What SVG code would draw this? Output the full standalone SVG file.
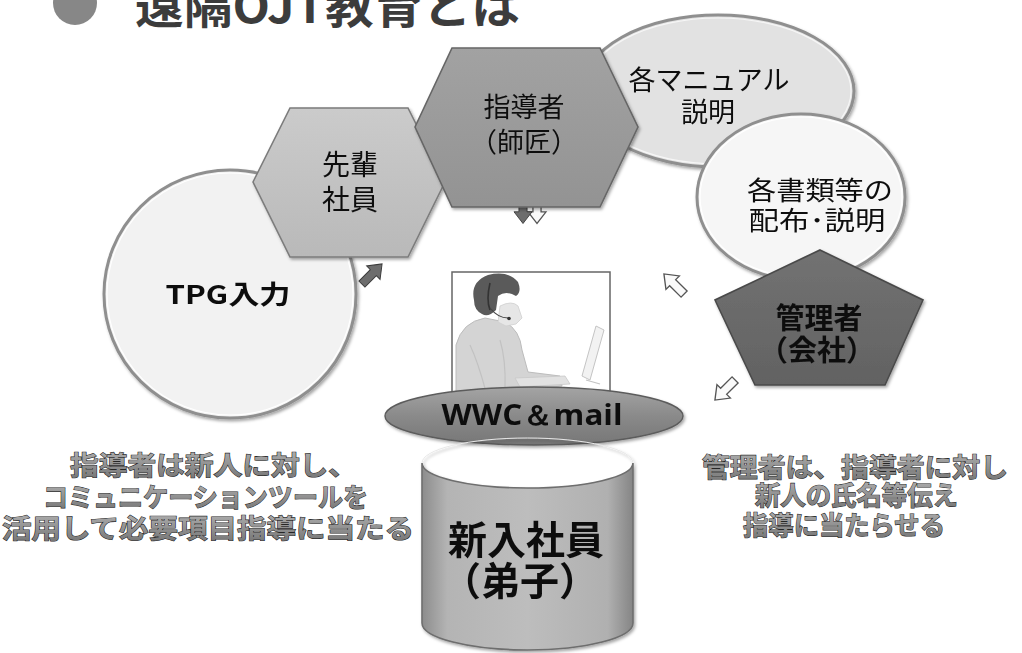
<svg xmlns="http://www.w3.org/2000/svg" width="1022" height="653" viewBox="0 0 1022 653">
  <defs>
    <style>
      .jp { font-family: "Noto Sans CJK JP", "Noto Sans", sans-serif; }
      .lbl { fill: #111; text-anchor: middle; }
      .blbl { font-weight: bold; fill: #111; text-anchor: middle; }
      .note { font-size: 26px; font-weight: bold; fill: url(#noteFill); stroke: #262626; stroke-width: 1.1px; paint-order: stroke; }
      .arrowDark { fill: #6d6d6d; stroke: #3a3a3a; stroke-width: 1; }
      .arrowLight { fill: #fafafa; stroke: #555; stroke-width: 1.4; }
    </style>
    <filter id="sh" x="-10%" y="-10%" width="125%" height="125%">
      <feDropShadow dx="1.5" dy="2" stdDeviation="1.6" flood-color="#000" flood-opacity="0.35"/>
    </filter>
    <linearGradient id="noteFill" x1="0" y1="0" x2="0" y2="1">
      <stop offset="0" stop-color="#b8b8b8"/>
      <stop offset="1" stop-color="#707070"/>
    </linearGradient>
    <linearGradient id="hexLight" x1="0" y1="0" x2="0" y2="1">
      <stop offset="0" stop-color="#cbcbcb"/>
      <stop offset="1" stop-color="#b9b9b9"/>
    </linearGradient>
    <linearGradient id="hexMid" x1="0" y1="0" x2="0" y2="1">
      <stop offset="0" stop-color="#a2a2a2"/>
      <stop offset="1" stop-color="#939393"/>
    </linearGradient>
    <linearGradient id="pentDark" x1="0" y1="0" x2="0" y2="1">
      <stop offset="0" stop-color="#727272"/>
      <stop offset="1" stop-color="#626262"/>
    </linearGradient>
    <linearGradient id="oval" x1="0" y1="0" x2="0" y2="1">
      <stop offset="0" stop-color="#a4a4a4"/>
      <stop offset="0.5" stop-color="#8a8a8a"/>
      <stop offset="1" stop-color="#767676"/>
    </linearGradient>
    <linearGradient id="can" x1="0" y1="0" x2="1" y2="0">
      <stop offset="0" stop-color="#8c8c8c"/>
      <stop offset="0.12" stop-color="#b4b4b4"/>
      <stop offset="0.5" stop-color="#bdbdbd"/>
      <stop offset="0.88" stop-color="#b0b0b0"/>
      <stop offset="1" stop-color="#858585"/>
    </linearGradient>
    <path id="blk" d="M-15,-4.5 L2,-4.5 L2,-10 L15,0 L2,10 L2,4.5 L-15,4.5 Z"/>
  </defs>

  <rect width="1022" height="653" fill="#ffffff"/>

  <!-- heading (runs off the top edge of the page) -->
  <g id="title">
    <circle cx="75" cy="3" r="22" fill="#878787"/>
    <text class="jp" x="135" y="23" font-size="46" font-weight="bold" fill="#3c3c3c" textLength="385" lengthAdjust="spacingAndGlyphs">遠隔OJT教育とは</text>
  </g>

  <!-- task bubbles -->
  <g id="tpg" filter="url(#sh)">
    <ellipse cx="230" cy="294" rx="126" ry="124" fill="#f2f2f2" stroke="#8f8f8f" stroke-width="3"/>
    <ellipse cx="230" cy="294" rx="123" ry="121" fill="none" stroke="#ffffff" stroke-width="1.2"/>
    <text class="jp blbl" x="228" y="304" font-size="26" textLength="125" lengthAdjust="spacingAndGlyphs">TPG入力</text>
  </g>

  <g id="manual" filter="url(#sh)">
    <ellipse cx="718" cy="91" rx="136" ry="76" fill="#e2e2e2" stroke="#8f8f8f" stroke-width="3"/>
    <ellipse cx="718" cy="91" rx="133" ry="73" fill="none" stroke="#f6f6f6" stroke-width="1.2"/>
    <text class="jp lbl" x="709" y="90" font-size="27">各マニュアル</text>
    <text class="jp lbl" x="708" y="122" font-size="27">説明</text>
  </g>

  <g id="senpai" filter="url(#sh)">
    <polygon points="253,182 290,108 408,108 445,182 408,257 290,257" fill="url(#hexLight)" stroke="#7c7c7c" stroke-width="1.6"/>
    <text class="jp lbl" x="350" y="175" font-size="28">先輩</text>
    <text class="jp lbl" x="350" y="210" font-size="28">社員</text>
  </g>

  <!-- arrow tucked under the instructor block -->
  <g id="arrowDown">
    <use href="#blk" class="arrowLight" transform="translate(537,210) rotate(90) scale(0.9)"/>
    <use href="#blk" class="arrowDark" transform="translate(523,210) rotate(90) scale(0.9)"/>
  </g>

  <g id="shidousha" filter="url(#sh)">
    <polygon points="415,127 452,48 600,48 638,127 600,207 452,207" fill="url(#hexMid)" stroke="#666" stroke-width="1.6"/>
    <text class="jp lbl" x="524" y="117" font-size="27">指導者</text>
    <text class="jp lbl" x="524" y="152" font-size="27">（師匠）</text>
  </g>

  <g id="shorui" filter="url(#sh)">
    <ellipse cx="801" cy="197" rx="104" ry="83" fill="#f6f6f6" stroke="#8f8f8f" stroke-width="3"/>
    <ellipse cx="801" cy="197" rx="101" ry="80" fill="none" stroke="#ffffff" stroke-width="1.2"/>
    <text class="jp lbl" x="820" y="200" font-size="26" textLength="146" lengthAdjust="spacingAndGlyphs">各書類等の</text>
    <text class="jp lbl" x="817" y="230" font-size="26" textLength="137" lengthAdjust="spacingAndGlyphs">配布･説明</text>
  </g>

  <g id="kanrisha" filter="url(#sh)">
    <polygon points="820,250 923,300 885,385 755,385 715,300" fill="url(#pentDark)" stroke="#4a4a4a" stroke-width="1.6"/>
    <text class="jp blbl" x="819" y="329" font-size="29">管理者</text>
    <text class="jp blbl" x="817" y="361" font-size="29">（会社）</text>
  </g>

  <!-- operator at a workstation -->
  <g id="operator">
    <rect x="452" y="272" width="158" height="120" fill="#ffffff" stroke="#666" stroke-width="1.5"/>
    <!-- torso and arm -->
    <path d="M456,392 L456,345 Q462,322 485,318 L505,322 Q520,330 522,350 L528,372 L560,376 L562,386 L520,390 Z" fill="#d4d4d4" stroke="#bcbcbc" stroke-width="1"/>
    <path d="M470,345 Q478,362 486,392 M500,340 Q506,360 505,388" fill="none" stroke="#c2c2c2" stroke-width="1.2"/>
    <!-- neck and face -->
    <path d="M500,306 Q512,300 518,306 L522,318 L516,324 L506,326 L498,322 Z" fill="#e6e6e6" stroke="#cfcfcf" stroke-width="0.8"/>
    <!-- hair -->
    <path d="M474,300 Q470,282 488,275 Q508,270 518,282 Q522,292 516,296 Q506,290 498,296 L496,310 Q488,318 482,314 Q474,310 474,300 Z" fill="#5a5a5a"/>
    <!-- headset -->
    <path d="M490,283 Q486,300 490,310" fill="none" stroke="#333" stroke-width="1.6"/>
    <path d="M490,308 Q498,318 508,318" fill="none" stroke="#444" stroke-width="1.2"/>
    <circle cx="509" cy="318.5" r="1.8" fill="#333"/>
    <!-- keyboard -->
    <path d="M515,378 L565,376 L570,384 L520,387 Z" fill="#e2e2e2" stroke="#c8c8c8" stroke-width="0.8"/>
    <!-- monitor -->
    <path d="M596,326 L604,330 L590,380 L582,376 Z" fill="#f2f2f2" stroke="#c4c4c4" stroke-width="1"/>
    <path d="M586,380 L600,384" stroke="#c4c4c4" stroke-width="1.2"/>
  </g>

  <g id="tool" filter="url(#sh)">
    <ellipse cx="534" cy="416" rx="149" ry="29" fill="url(#oval)" stroke="#5c5c5c" stroke-width="1.4"/>
    <text x="532" y="425" font-family="'Open Sans', 'Liberation Sans', sans-serif" font-size="28" font-weight="bold" fill="#111" text-anchor="middle" textLength="181" lengthAdjust="spacingAndGlyphs">WWC＆mail</text>
  </g>

  <g id="shinnyu" filter="url(#sh)">
    <path d="M422,463 L422,623 A105.5,27 0 0 0 633,623 L633,463 A105.5,25 0 0 1 422,463 Z" fill="url(#can)" stroke="#6e6e6e" stroke-width="1.6"/>
    <path d="M422,463 A105.5,25 0 0 1 633,463" fill="none" stroke="#e8e8e8" stroke-width="1"/>
    <text class="jp blbl" x="526" y="554" font-size="39">新入社員</text>
    <text class="jp blbl" x="520" y="595" font-size="39">（弟子）</text>
  </g>

  <!-- connectors -->
  <g id="connectors">
    <use href="#blk" class="arrowDark" transform="translate(372,274) rotate(-45) scale(0.95)"/>
    <use href="#blk" class="arrowLight" transform="translate(674,284) rotate(-135) scale(0.95)"/>
    <use href="#blk" class="arrowLight" transform="translate(725,390) rotate(135) scale(0.95)"/>
  </g>

  <!-- captions -->
  <g id="noteLeft">
    <text class="jp note" x="70" y="475" textLength="287" lengthAdjust="spacingAndGlyphs">指導者は新人に対し、</text>
    <text class="jp note" x="43" y="507" textLength="325" lengthAdjust="spacingAndGlyphs">コミュニケーションツールを</text>
    <text class="jp note" x="2" y="538" textLength="412" lengthAdjust="spacingAndGlyphs">活用して必要項目指導に当たる</text>
  </g>
  <g id="noteRight">
    <text class="jp note" x="702" y="477" textLength="306" lengthAdjust="spacingAndGlyphs">管理者は、指導者に対し</text>
    <text class="jp note" x="755" y="505" textLength="203" lengthAdjust="spacingAndGlyphs">新人の氏名等伝え</text>
    <text class="jp note" x="743" y="535" textLength="202" lengthAdjust="spacingAndGlyphs">指導に当たらせる</text>
  </g>
</svg>
